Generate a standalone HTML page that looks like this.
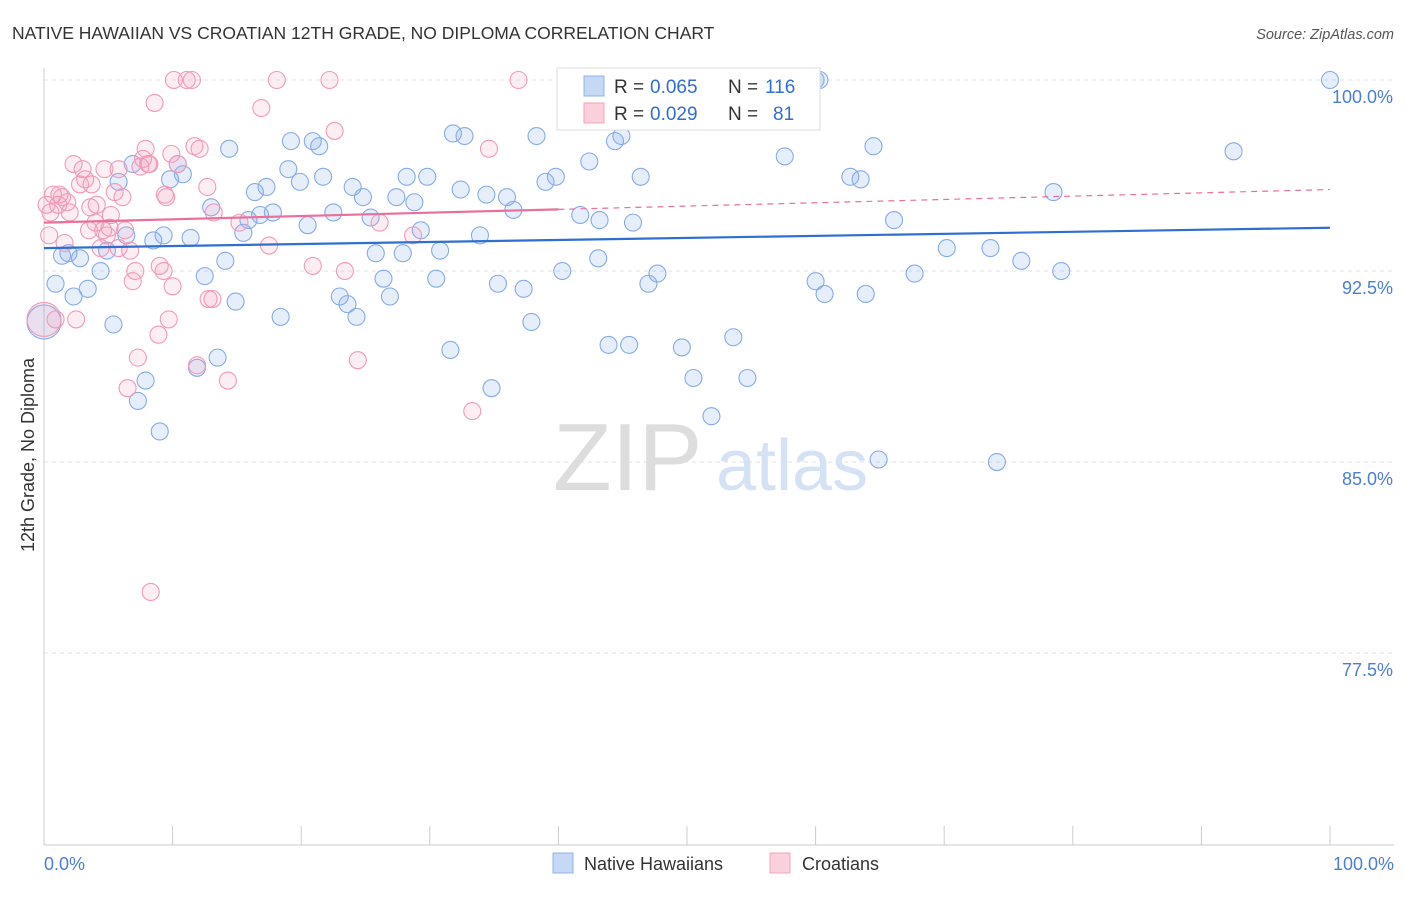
<!DOCTYPE html>
<html><head><meta charset="utf-8">
<style>
body{margin:0;background:#fff;font-family:"Liberation Sans",sans-serif;}
svg text{font-family:"Liberation Sans",sans-serif;}
</style></head>
<body>
<svg id="chart" width="1406" height="892" xmlns="http://www.w3.org/2000/svg">
<text x="12" y="39" font-size="17.5" fill="#333">NATIVE HAWAIIAN VS CROATIAN 12TH GRADE, NO DIPLOMA CORRELATION CHART</text>
<text x="1394" y="39" font-size="14.5" fill="#555" text-anchor="end" font-style="italic">Source: ZipAtlas.com</text>
<g id="grid"></g>
<g id="watermark">
<text x="553" y="490" font-size="96" fill="#ddd" font-family="Liberation Serif">ZIP</text>
<text x="716" y="490" font-size="72" fill="#d4e2f4">atlas</text>
</g>
<g id="pts"></g>
<g id="trends"></g>
<text transform="translate(34,455) rotate(-90)" font-size="18" fill="#333" text-anchor="middle">12th Grade, No Diploma</text>
<text x="44" y="870" font-size="18" fill="#4a7fd4">0.0%</text>
<text x="1394" y="870" font-size="18" fill="#4a7fd4" text-anchor="end">100.0%</text>
<g>
<rect x="557" y="68" width="263" height="62" fill="#fff" stroke="#ddd"/>
<rect x="584" y="76" width="20" height="20" fill="#c5d9f5" stroke="#8fb3ea"/>
<text x="614" y="93" font-size="19" fill="#333">R =</text>
<text x="650" y="93" font-size="19" fill="#2f6fd0">0.065</text>
<text x="728" y="93" font-size="19" fill="#333">N =</text>
<text x="765" y="93" font-size="19" fill="#2f6fd0">116</text>
<rect x="584" y="103" width="20" height="20" fill="#fad0dd" stroke="#f4a3bd"/>
<text x="614" y="120" font-size="19" fill="#333">R =</text>
<text x="650" y="120" font-size="19" fill="#2f6fd0">0.029</text>
<text x="728" y="120" font-size="19" fill="#333">N =</text>
<text x="773" y="120" font-size="19" fill="#2f6fd0">81</text>
</g>
<g>
<rect x="553" y="853" width="20" height="20" fill="#c5d9f5" stroke="#8fb3ea"/>
<text x="584" y="870" font-size="18" fill="#333">Native Hawaiians</text>
<rect x="770" y="853" width="20" height="20" fill="#fad0dd" stroke="#f4a3bd"/>
<text x="802" y="870" font-size="18" fill="#333">Croatians</text>
</g>
</svg>
<script>
const yTicks=[100,92.5,85,77.5];
const yTickLabels=["100.0%","92.5%","85.0%","77.5%"];
const xTicks=[0,10,20,30,40,50,60,70,80,90,100];
const blueX=[0,0.9,1.4,1.9,2.3,2.8,3.4,4.4,4.9,5.4,5.8,6.4,6.9,7.3,7.9,8.5,9.0,9.3,9.8,10.4,10.8,11.4,11.9,12.5,13.0,13.5,14.1,14.4,14.9,15.5,15.9,16.4,16.8,17.3,17.8,18.4,19.0,19.2,19.9,20.5,20.9,21.4,21.7,22.5,23.0,23.6,24.0,24.3,24.8,25.4,25.8,26.4,26.9,27.4,27.9,28.2,28.8,29.3,29.8,30.5,30.8,31.6,31.8,32.4,32.7,33.9,34.4,34.8,35.3,36.0,36.5,37.3,37.9,38.3,39.0,39.8,40.3,41.7,41.7,42.4,43.1,43.2,44.4,44.9,45.8,46.4,47.0,47.7,49.6,50.5,51.9,53.6,54.7,57.6,59.3,60.0,60.3,60.0,60.7,62.7,63.5,63.9,64.5,64.9,66.1,67.7,70.2,73.6,74.1,76.0,78.5,79.1,92.5,100,43.9,45.5];
const blueY=[90.5,92.0,93.1,93.2,91.5,93.0,91.8,92.5,93.3,90.4,96.0,93.9,96.7,87.4,88.2,93.7,86.2,93.9,96.1,96.7,96.3,93.8,88.7,92.3,95.0,89.1,92.9,97.3,91.3,94.0,94.5,95.6,94.7,95.8,94.8,90.7,96.5,97.6,96.0,94.3,97.6,97.4,96.2,94.8,91.5,91.2,95.8,90.7,95.4,94.6,93.2,92.2,91.5,95.4,93.2,96.2,95.2,94.1,96.2,92.2,93.3,89.4,97.9,95.7,97.8,93.9,95.5,87.9,92.0,95.4,94.9,91.8,90.5,97.8,96.0,96.2,92.5,100,94.7,96.8,93.0,94.5,97.6,97.8,94.4,96.2,92.0,92.4,89.5,88.3,86.8,89.9,88.3,97.0,100,100,100,92.1,91.6,96.2,96.1,91.6,97.4,85.1,94.5,92.4,93.4,93.4,85.0,92.9,95.6,92.5,97.2,100,89.6,89.6];
const pinkX=[0.5,0.7,1.1,1.4,1.6,2.0,2.3,2.5,2.8,3.2,3.5,3.7,4.1,4.4,4.7,4.9,5.2,5.5,5.8,6.1,6.5,6.7,6.9,7.3,7.7,7.9,8.2,8.3,8.6,8.9,9.0,9.3,9.5,9.7,9.9,10.0,10.1,11.1,11.5,11.7,12.1,12.7,13.1,13.2,14.3,15.2,16.9,17.5,18.1,20.9,22.2,22.6,23.4,24.4,26.1,28.7,33.3,34.6,36.9,0.4,0.9,1.2,1.8,3.0,4.0,4.6,5.1,5.8,6.3,7.5,8.1,9.4,10.4,11.9,12.8,7.1,0.2,3.6,0];
const pinkY=[94.8,95.5,95.1,95.4,93.6,94.8,96.7,90.6,95.9,96.1,94.1,95.9,95.1,93.4,96.5,93.9,94.7,95.6,93.4,95.4,87.9,93.3,92.1,89.1,96.9,97.3,96.7,79.9,99.1,90.0,92.7,92.5,95.4,90.6,97.1,91.9,100,100,100,97.4,97.3,95.8,91.4,94.8,88.2,94.4,98.9,93.5,100,92.7,100,98.0,92.5,89.0,94.4,93.9,87.0,97.3,100,93.9,90.6,95.5,95.2,96.5,94.4,94.1,94.2,96.5,94.1,96.6,96.7,95.5,96.7,88.8,91.4,92.5,95.1,95.0,90.6];
const blueTrend=[93.4,94.2];
const pinkTrend=[94.4,95.7];
const pinkSolidEnd=40;
const X=v=>44+v*12.86, Y=v=>80+(100-v)*25.47;
const NS="http://www.w3.org/2000/svg";
function mk(t,a,p){const e=document.createElementNS(NS,t);for(const k in a)e.setAttribute(k,a[k]);p.appendChild(e);return e;}
const grid=document.getElementById('grid');
yTicks.forEach((t,i)=>{
 const l=mk('line',{x1:44,x2:1394,y1:Y(t),y2:Y(t),stroke:'#e2e2e2','stroke-dasharray':'4,4'},grid);
 
 
 const tx=mk('text',{x:1393,y:Y(t)+23,'font-size':18,fill:'#4a7fd4','text-anchor':'end'},grid);
 tx.textContent=yTickLabels[i];
 
 
});
const ax=mk('line',{x1:44,x2:44,y1:68,y2:845,stroke:'#ccc'},grid);


const bx=mk('line',{x1:44,x2:1394,y1:845,y2:845,stroke:'#ccc'},grid);


xTicks.forEach(t=>{
 const l=mk('line',{x1:X(t),x2:X(t),y1:826,y2:845,stroke:'#ccc'},grid);
 
 
});
const pts=document.getElementById('pts');
function dots(xs,ys,fill,stroke,name){
 xs.forEach((x,i)=>{
  const r=(i===0&&name==='native-hawaiian-point')||(i===xs.length-1&&name==='croatian-point')?17:8.5;
  const c=mk('circle',{cx:X(x),cy:Y(ys[i]),r:r,fill:fill,stroke:stroke,'stroke-width':1.1},pts);
  
  
 });
}
dots(blueX,blueY,'rgba(130,170,235,0.2)','#86abe6','native-hawaiian-point');
dots(pinkX,pinkY,'rgba(244,160,190,0.18)','#f29ab7','croatian-point');
const tr=document.getElementById('trends');
const b=mk('line',{x1:X(0),y1:Y(blueTrend[0]),x2:X(100),y2:Y(blueTrend[1]),stroke:'#2f6fd0','stroke-width':2.2},tr);


const pe=pinkTrend[0]+(pinkTrend[1]-pinkTrend[0])*pinkSolidEnd/100;
const p1=mk('line',{x1:X(0),y1:Y(pinkTrend[0]),x2:X(pinkSolidEnd),y2:Y(pe),stroke:'#e8709a','stroke-width':2.2},tr);


const p2=mk('line',{x1:X(pinkSolidEnd),y1:Y(pe),x2:X(100),y2:Y(pinkTrend[1]),stroke:'#e8709a','stroke-width':1.2,'stroke-dasharray':'6,5'},tr);


</script>
</body></html>
